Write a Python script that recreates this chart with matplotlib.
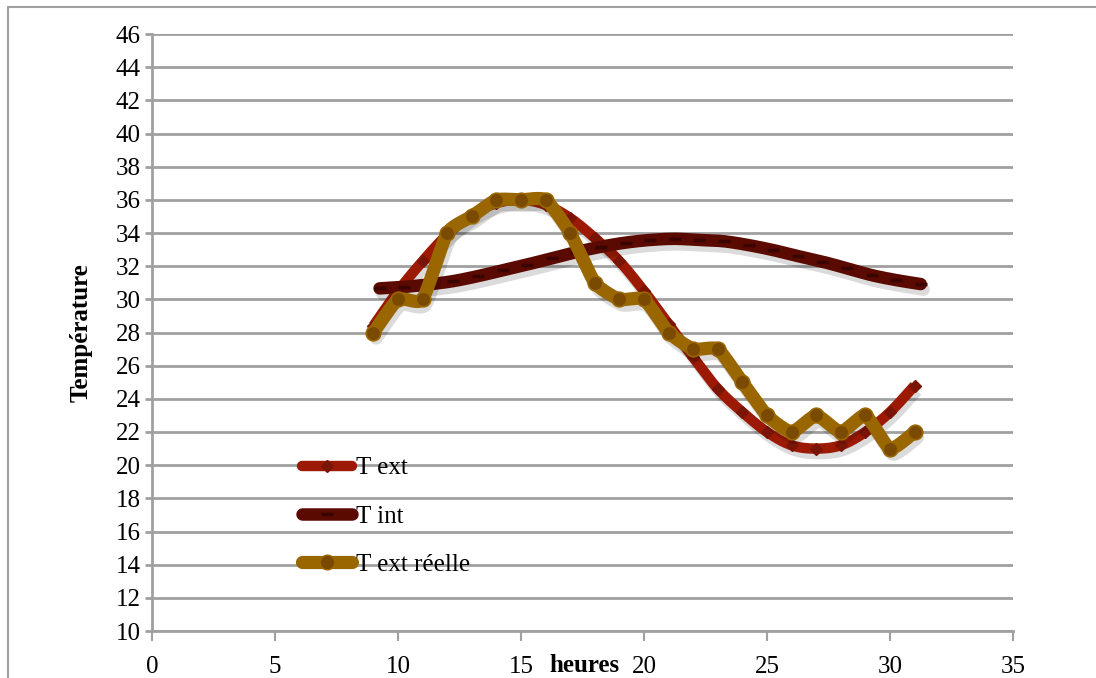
import numpy as np
import matplotlib
matplotlib.use("Agg")
import matplotlib.pyplot as plt
import matplotlib.patheffects as pe
from matplotlib.lines import Line2D
from matplotlib.patches import Rectangle

# ---- data ----
hours = [9, 10, 11, 12, 13, 14, 15, 16, 17, 18, 19, 20, 21, 22, 23, 24, 25, 26, 27, 28, 29, 30, 31]
t_ext = [28.4, 30.5, 32.3, 33.9, 35.1, 35.8, 36.0, 35.7, 34.9, 33.7, 32.3, 30.5, 28.5, 26.5,
         24.6, 23.2, 22.0, 21.2, 21.0, 21.2, 22.0, 23.2, 24.8]
hours_int = [9.25, 10.25, 11.25, 12.25, 13.25, 14.25, 15.25, 16.25, 17.25, 18.25, 19.25, 20.25,
             21.25, 22.25, 23.25, 24.25, 25.25, 26.25, 27.25, 28.25, 29.25, 30.25, 31.25]
t_int = [30.66, 30.75, 30.9, 31.1, 31.4, 31.75, 32.1, 32.47, 32.85, 33.17, 33.42, 33.58, 33.65,
         33.58, 33.5, 33.27, 32.97, 32.61, 32.27, 31.87, 31.46, 31.16, 30.92]
t_reelle = [28, 30, 30, 34, 35, 36, 36, 36, 34, 31, 30, 30, 28, 27, 27, 25, 23, 22, 23, 22, 23, 21, 22]
labels = ["T ext", "T int", "T ext réelle"]
xticks = [0, 5, 10, 15, 20, 25, 30, 35]
yticks = list(range(10, 47, 2))

FONT = "Liberation Serif"
GRAY = "#a0a0a0"
RED, RED_M = "#9c1a04", "#7a1406"
MAROON, MAROON_M = "#5a0a00", "#3a0500"
TAN, TAN_M = "#9a6600", "#7a4a00"


def smooth(x, y, k=6.0, n=20):
    """Excel-like smoothed line rendered as cubic Bezier segments."""
    p = np.column_stack([x, y]).astype(float)
    pp = np.vstack([p[0], p, p[-1]])
    out = []
    t = np.linspace(0, 1, n)[:, None]
    for i in range(len(p) - 1):
        p0, p1, p2, p3 = pp[i], pp[i + 1], pp[i + 2], pp[i + 3]
        c1 = p1 + (p2 - p0) / k
        c2 = p2 - (p3 - p1) / k
        seg = ((1 - t) ** 3) * p1 + 3 * ((1 - t) ** 2) * t * c1 + 3 * (1 - t) * t ** 2 * c2 + t ** 3 * p2
        out.append(seg if i == 0 else seg[1:])
    s = np.vstack(out)
    return s[:, 0], s[:, 1]


fig = plt.figure(figsize=(10.96, 6.78), dpi=100)
ax = fig.add_axes([152 / 1096, 47 / 678, 861 / 1096, 597 / 678])

# outer chart border
fig.patches.append(Rectangle((8 / 1096, -0.1), 1.2, 1.0897, transform=fig.transFigure,
                             fill=False, edgecolor=GRAY, lw=1.5))

shadow = [pe.SimpleLineShadow(offset=(2, -4), shadow_color="k", alpha=0.14), pe.Normal()]

sx, sy = smooth(hours, t_ext)
ax.plot(sx, sy, color=RED, lw=7.5, solid_capstyle="butt", path_effects=shadow, zorder=3)
ax.plot(hours, t_ext, ls="none", marker="D", ms=6, color=RED_M, mec=RED_M, zorder=3.1)

sx, sy = smooth(hours_int, t_int)
ax.plot(sx, sy, color=MAROON, lw=9, solid_capstyle="round", path_effects=shadow, zorder=4)
ax.plot(hours_int, t_int, ls="none", marker="_", ms=9, mew=2.5, color=MAROON_M, zorder=4.1)

sx, sy = smooth(hours, t_reelle, k=11.0)
ax.plot(sx, sy, color=TAN, lw=9.5, solid_capstyle="round", solid_joinstyle="round",
        path_effects=shadow, zorder=5)
ax.plot(hours, t_reelle, ls="none", marker="o", ms=10.5, color=TAN_M, mec=TAN, mew=1.2, zorder=5.1)

ax.set_xlim(0, 35)
ax.set_ylim(10, 46)
ax.set_xticks(xticks)
ax.set_yticks(yticks)
ax.yaxis.grid(True, color=GRAY, lw=2)
ax.set_axisbelow(True)
for s in ["top", "right"]:
    ax.spines[s].set_visible(False)
for s in ["left", "bottom"]:
    ax.spines[s].set_color(GRAY)
    ax.spines[s].set_linewidth(2)
ax.tick_params(axis="y", direction="out", length=5, width=2, color=GRAY, pad=3)
ax.tick_params(axis="x", direction="out", length=7, width=1.5, color=GRAY, pad=11)
for lab in ax.get_xticklabels() + ax.get_yticklabels():
    lab.set_fontfamily(FONT)
    lab.set_fontsize(18)

fig.text(81 / 1096, 1 - 333 / 678, "Température", rotation=90, ha="center", va="center",
         fontsize=18, fontweight="bold", family=FONT)
fig.text(584 / 1096, 1 - 665 / 678, "heures", ha="center", va="center",
         fontsize=18, fontweight="bold", family=FONT)

handles = [
    Line2D([], [], color=RED, lw=7.5, marker="D", ms=6, mfc=RED_M, mec=RED_M, solid_capstyle="round"),
    Line2D([], [], color=MAROON, lw=9, marker="_", ms=9, mew=2.5, mec=MAROON_M, solid_capstyle="round"),
    Line2D([], [], color=TAN, lw=9.5, marker="o", ms=10.5, mfc=TAN_M, mec=TAN, solid_capstyle="round"),
]
leg = ax.legend(handles, labels, loc="upper left", bbox_to_anchor=(302 / 1096, 1 - 457 / 678),
                bbox_transform=fig.transFigure, frameon=False, numpoints=1,
                prop={"family": FONT, "size": 18}, handlelength=2.0, handletextpad=0.15,
                labelspacing=1.03, borderaxespad=0, borderpad=0)

fig.savefig("out.png", dpi=100)
